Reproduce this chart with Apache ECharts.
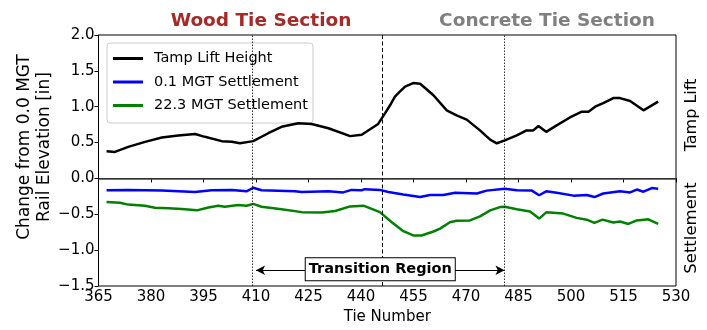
<!DOCTYPE html>
<html>
<head>
<meta charset="utf-8">
<script src="https://cdn.jsdelivr.net/npm/echarts@6/dist/echarts.min.js"></script>
<style>html,body{margin:0;padding:0;background:#fff}#c{width:707px;height:330px}</style>
</head>
<body>
<div id="c"></div>
<script>
// ---- data ----
var tampTies = [367.3,369.7,373.5,378.3,383.1,387.8,392.6,395.4,400.2,403.1,405.4,409.2,413.5,417.3,422.1,425.9,430.7,436.9,440.2,444.9,446.9,448.3,449.7,451.1,452.6,454.9,456.9,460.7,464.5,467.3,470.2,474.0,476.9,478.8,481.1,484.5,487.3,489.2,490.7,492.9,495.9,499.7,503.1,505.0,506.9,509.2,512.1,514.0,516.9,520.7,524.9];
var tampLift = [0.38,0.37,0.44,0.51,0.57,0.60,0.62,0.58,0.52,0.51,0.49,0.52,0.63,0.72,0.77,0.76,0.70,0.59,0.61,0.76,0.91,1.02,1.14,1.21,1.28,1.33,1.32,1.16,0.95,0.88,0.82,0.67,0.54,0.49,0.53,0.60,0.67,0.67,0.73,0.65,0.74,0.85,0.93,0.93,1.00,1.05,1.12,1.12,1.08,0.95,1.07];

var mgt01Ties = [367.3,373.5,383.1,392.6,397.3,403.1,407.3,409.2,411.6,421.1,423.1,430.7,434.9,437.3,440.2,441.1,445.4,447.8,452.1,456.9,459.7,463.5,466.9,473.1,475.9,481.1,484.5,488.8,490.9,492.9,495.9,500.7,504.5,506.7,509.2,514.0,516.9,518.8,520.7,523.1,524.9];
var mgt01 = [-0.165,-0.16,-0.17,-0.19,-0.165,-0.16,-0.18,-0.13,-0.165,-0.18,-0.19,-0.18,-0.195,-0.16,-0.165,-0.15,-0.16,-0.19,-0.225,-0.26,-0.23,-0.23,-0.20,-0.21,-0.17,-0.145,-0.165,-0.17,-0.235,-0.18,-0.20,-0.24,-0.23,-0.26,-0.21,-0.18,-0.195,-0.155,-0.185,-0.135,-0.145];

var mgt223Ties = [367.3,371.1,373.5,378.3,381.1,384.9,388.8,393.1,396.4,399.2,401.1,404.9,407.3,409.2,411.6,417.3,423.1,428.8,432.6,436.9,440.7,445.4,448.8,452.1,454.9,457.3,460.7,462.6,465.4,467.3,471.1,474.0,476.9,479.7,481.1,484.5,488.3,490.9,493.0,497.8,501.6,504.5,506.7,509.0,512.1,514.0,516.4,518.8,522.1,524.9];
var mgt223 = [-0.33,-0.34,-0.365,-0.38,-0.41,-0.415,-0.425,-0.445,-0.405,-0.38,-0.395,-0.37,-0.38,-0.355,-0.395,-0.43,-0.47,-0.475,-0.455,-0.39,-0.38,-0.47,-0.61,-0.735,-0.795,-0.795,-0.74,-0.70,-0.61,-0.59,-0.585,-0.53,-0.445,-0.40,-0.395,-0.43,-0.46,-0.56,-0.47,-0.49,-0.55,-0.575,-0.62,-0.575,-0.615,-0.60,-0.635,-0.585,-0.57,-0.635];

var seriesNames = ['Tamp Lift Height','0.1 MGT Settlement','22.3 MGT Settlement'];
var sectionBounds = [409, 446, 481];   // dotted, dashed, dotted
var transitionArrow = [410, 481, -1.28];
var xTicks = {min:365, max:530, interval:15};
var yTicks = {min:-1.5, max:2.0, interval:0.5};

function pairs(xs, ys){ return xs.map(function(x,i){ return [x, ys[i]]; }); }

var FONT = 'DejaVu Sans';
var chart = echarts.init(document.getElementById('c'), null, {renderer:'canvas'});
chart.setOption({
  animation:false,
  grid:{left:98.5, right:31, top:35, bottom:44, show:true, borderColor:'#000', borderWidth:1, backgroundColor:'transparent'},
  legend:{
    orient:'vertical', left:107, top:43, data:seriesNames,
    icon:'rect', itemWidth:30, itemHeight:3, itemGap:8.5,
    padding:[8,5,10,6], borderColor:'#ccc', borderWidth:1, borderRadius:3, backgroundColor:'#fff',
    textStyle:{fontFamily:FONT, fontSize:14.5, color:'#000', padding:[0,0,0,6]}
  },
  xAxis:{
    type:'value', min:xTicks.min, max:xTicks.max, interval:xTicks.interval,
    name:'Tie Number', nameLocation:'middle', nameGap:24,
    nameTextStyle:{fontFamily:FONT, fontSize:15, color:'#000'},
    axisLine:{show:true, lineStyle:{color:'#000', width:1}},
    axisTick:{show:true, length:4, lineStyle:{color:'#000'}},
    axisLabel:{fontFamily:FONT, fontSize:15, color:'#000', margin:4},
    splitLine:{show:false}
  },
  yAxis:{
    type:'value', min:yTicks.min, max:yTicks.max, interval:yTicks.interval,
    axisLine:{show:true, lineStyle:{color:'#000', width:1}},
    axisTick:{show:true, length:4, lineStyle:{color:'#000'}},
    axisLabel:{fontFamily:FONT, fontSize:15, color:'#000', margin:4,
      formatter:function(v){ return v.toFixed(1).replace('-', '\u2212'); }},
    splitLine:{show:false}
  },
  series:[
    {name:seriesNames[0], type:'line', data:pairs(tampTies, tampLift), symbol:'none',
     lineStyle:{color:'#000', width:2.5}, itemStyle:{color:'#000'}, z:5,
     markLine:{silent:true, symbol:'none', animation:false, label:{show:false},
       data:[
         {yAxis:0, lineStyle:{color:'#444', width:1.5, type:'solid'}},
         {xAxis:sectionBounds[0], lineStyle:{color:'#000', width:0.8, type:[1.5,1.5]}},
         {xAxis:sectionBounds[1], lineStyle:{color:'#000', width:1, type:[4,2.5]}},
         {xAxis:sectionBounds[2], lineStyle:{color:'#000', width:0.8, type:[1.5,1.5]}}
       ]}},
    {name:seriesNames[1], type:'line', data:pairs(mgt01Ties, mgt01), symbol:'none',
     lineStyle:{color:'#0000ff', width:2.5}, itemStyle:{color:'#0000ff'}, z:4},
    {name:seriesNames[2], type:'line', data:pairs(mgt223Ties, mgt223), symbol:'none',
     lineStyle:{color:'#008000', width:2.5}, itemStyle:{color:'#008000'}, z:4,
     markLine:{silent:true, animation:false, symbol:['arrow','arrow'], symbolSize:[7,9],
       lineStyle:{color:'#000', width:1, type:'solid'},
       label:{show:true, position:'middle', formatter:'Transition Region', distance:-10,
         fontFamily:FONT, fontSize:14.5, fontWeight:'bold', color:'#000',
         backgroundColor:'#fff', borderColor:'#000', borderWidth:1, padding:[4,3,3,3]},
       data:[[{coord:[transitionArrow[0], transitionArrow[2]]},{coord:[transitionArrow[1], transitionArrow[2]]}]]}}
  ],
  graphic:[
    {type:'text', position:[261,21], style:{text:'Wood Tie Section', fill:'#a52a2a', font:'bold 18.5px "DejaVu Sans"', textAlign:'center', textVerticalAlign:'middle'}},
    {type:'text', position:[547,21], style:{text:'Concrete Tie Section', fill:'#808080', font:'bold 18.5px "DejaVu Sans"', textAlign:'center', textVerticalAlign:'middle'}},
    {type:'text', position:[35,147], rotation:Math.PI/2, style:{text:'Change from 0.0 MGT\nRail Elevation [in]', fill:'#000', font:'17px "DejaVu Sans"', lineHeight:20, textAlign:'center', textVerticalAlign:'middle'}},
    {type:'text', position:[692,115], rotation:Math.PI/2, style:{text:'Tamp Lift', fill:'#000', font:'16px "DejaVu Sans"', textAlign:'center', textVerticalAlign:'middle'}},
    {type:'text', position:[692,228], rotation:Math.PI/2, style:{text:'Settlement', fill:'#000', font:'16.5px "DejaVu Sans"', textAlign:'center', textVerticalAlign:'middle'}}
  ]
});
</script>
</body>
</html>
